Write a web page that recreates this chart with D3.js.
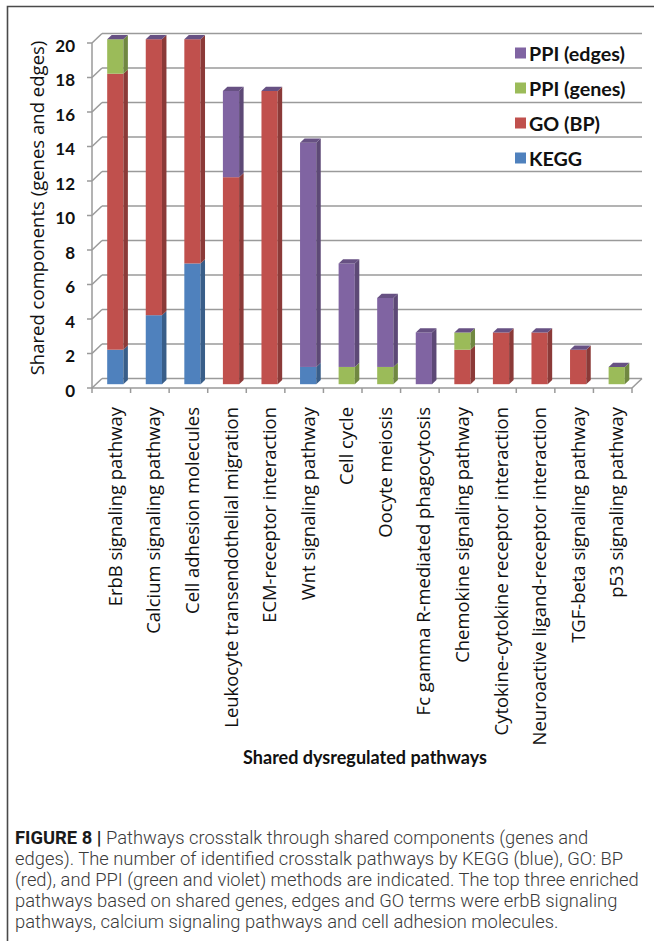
<!DOCTYPE html>
<html>
<head>
<meta charset="utf-8">
<script src="https://cdn.jsdelivr.net/npm/d3@7"></script>
<style>
  html, body { margin: 0; padding: 0; background: #fff; }
  svg { display: block; }
</style>
</head>
<body>
<svg id="chart" width="654" height="941"></svg>
<script>
// Pathway categories (x axis)
const categories = [
  "ErbB signaling pathway",
  "Calcium signaling pathway",
  "Cell adhesion molecules",
  "Leukocyte transendothelial migration",
  "ECM-receptor interaction",
  "Wnt signaling pathway",
  "Cell cycle",
  "Oocyte meiosis",
  "Fc gamma R-mediated  phagocytosis",
  "Chemokine signaling pathway",
  "Cytokine-cytokine receptor interaction",
  "Neuroactive ligand-receptor interaction",
  "TGF-beta signaling pathway",
  "p53 signaling pathway"
];

// Stacked series, bottom to top
const kegg     = [2, 4, 7, 0, 0, 1, 0, 0, 0, 0, 0, 0, 0, 0];
const goBP     = [16, 16, 13, 12, 17, 0, 0, 0, 0, 2, 3, 3, 2, 0];
const ppiGenes = [2, 0, 0, 0, 0, 0, 1, 1, 0, 1, 0, 0, 0, 1];
const ppiEdges = [0, 0, 0, 5, 0, 13, 6, 4, 3, 0, 0, 0, 0, 0];

const seriesNames = ["KEGG", "GO (BP)", "PPI (genes)", "PPI (edges)"];
const seriesColors = ["#4F81BD", "#C0504D", "#9BBB59", "#8064A2"];
const yTicks = [0, 2, 4, 6, 8, 10, 12, 14, 16, 18, 20];

const captionLines = [
  "Pathways crosstalk through shared components (genes and",
  "edges). The number of identified crosstalk pathways by KEGG (blue), GO: BP",
  "(red), and PPI (green and violet) methods are indicated. The top three enriched",
  "pathways based on shared genes, edges and GO terms were erbB signaling",
  "pathways, calcium signaling pathways and cell adhesion molecules."
];

const svg = d3.select("#chart");

// fit a text element's font size so that it spans a given length
function fitText(sel, target) {
  const node = sel.node();
  const fs = parseFloat(sel.attr("font-size"));
  const len = node.getComputedTextLength();
  if (len > 0) sel.attr("font-size", (fs * target / len).toFixed(2));
  return sel;
}

// outer frame
svg.append("path")
  .attr("d", "M7.5,941 V6.5 H654")
  .attr("fill", "none").attr("stroke", "#4a4a4a").attr("stroke-width", 1.6);

// --- 3D plot geometry ---
const x = d3.scaleBand().domain(categories).range([92, 632]);
const y = d3.scaleLinear().domain([0, 20]).range([388, 43]);
const DX = 10, DY = -9.5;          // depth offset of the back wall
const fF = 0.4, fB = 0.85;         // bar front/back depth fractions
const bw = x.bandwidth() * 0.42;

const gridColor = "#9a9a9a";
const grid = svg.append("g").attr("stroke", gridColor).attr("stroke-width", 1.5).attr("fill", "none");

// back wall gridlines and side wall diagonals
yTicks.forEach(v => {
  const yf = y(v);
  grid.append("line").attr("x1", 92 + DX).attr("x2", 632 + DX)
    .attr("y1", yf + DY).attr("y2", yf + DY);
  grid.append("line").attr("x1", 92).attr("y1", yf).attr("x2", 92 + DX).attr("y2", yf + DY);
});
// floor front edge and right diagonal
grid.append("line").attr("x1", 92).attr("x2", 632).attr("y1", y(0)).attr("y2", y(0));
grid.append("line").attr("x1", 632).attr("y1", y(0)).attr("x2", 632 + DX).attr("y2", y(0) + DY);
// front vertical axis
grid.append("line").attr("x1", 92).attr("x2", 92).attr("y1", y(0)).attr("y2", y(20));
// y ticks
yTicks.forEach(v => {
  grid.append("line").attr("x1", 87).attr("x2", 92).attr("y1", y(v)).attr("y2", y(v));
});
// x ticks at band boundaries
categories.concat([null]).forEach((c, i) => {
  const xx = 92 + i * x.bandwidth();
  grid.append("line").attr("x1", xx).attr("x2", xx).attr("y1", y(0)).attr("y2", y(0) + 5);
});

// --- stacked 3D bars ---
const table = categories.map((c, i) => ({
  cat: c, KEGG: kegg[i], "GO (BP)": goBP[i], "PPI (genes)": ppiGenes[i], "PPI (edges)": ppiEdges[i]
}));
const stacked = d3.stack().keys(seriesNames)(table);
const color = d3.scaleOrdinal().domain(seriesNames).range(seriesColors);

const bars = svg.append("g");
const sdx = (fB - fF) * DX, sdy = (fB - fF) * DY;

stacked.forEach(layer => {
  const col = d3.color(color(layer.key));
  layer.forEach((d, i) => {
    if (d[1] - d[0] <= 0) return;
    const cx = x(categories[i]) + x.bandwidth() / 2 + fF * DX;
    const xl = cx - bw / 2, xr = cx + bw / 2;
    const yt = y(d[1]) + fF * DY, yb = y(d[0]) + fF * DY;
    bars.append("rect").attr("x", xl).attr("y", yt).attr("width", bw).attr("height", yb - yt)
      .attr("fill", col.formatHex());
    bars.append("polygon")
      .attr("points", [[xr, yt], [xr + sdx, yt + sdy], [xr + sdx, yb + sdy], [xr, yb]].join(" "))
      .attr("fill", col.darker(0.9).formatHex());
  });
});

// top caps (zero-height top series face)
const topCol = d3.color(color("PPI (edges)")).darker(0.6).formatHex();
stacked[stacked.length - 1].forEach((d, i) => {
  const cx = x(categories[i]) + x.bandwidth() / 2 + fF * DX;
  const xl = cx - bw / 2, xr = cx + bw / 2;
  const yt = y(d[1]) + fF * DY;
  bars.append("polygon")
    .attr("points", [[xl, yt], [xl + sdx, yt + sdy], [xr + sdx, yt + sdy], [xr, yt]].join(" "))
    .attr("fill", topCol);
});

// --- axis labels ---
const labelFont = "Lato, 'Open Sans', sans-serif";
svg.append("g").selectAll("text").data(yTicks).join("text")
  .attr("x", 75).attr("y", v => y(v) + 2)
  .attr("text-anchor", "end").attr("dominant-baseline", "central")
  .attr("font-family", labelFont).attr("font-weight", "bold").attr("font-size", 17)
  .attr("fill", "#111").text(v => v);

const yTitle = svg.append("text")
  .attr("transform", "translate(36,208) rotate(-90)")
  .attr("text-anchor", "middle").attr("dominant-baseline", "central")
  .attr("font-family", "'Open Sans', sans-serif").attr("font-size", 16)
  .attr("fill", "#111").text("Shared components (genes and edges)");
fitText(yTitle, 335);

const xLabels = svg.append("g").selectAll("text").data(categories).join("text")
  .attr("transform", c => `translate(${x(c) + x.bandwidth() / 2 + 3},407) rotate(-90)`)
  .attr("text-anchor", "end").attr("dominant-baseline", "central")
  .attr("font-family", "'Open Sans', sans-serif").attr("font-size", 15)
  .attr("fill", "#111").text(c => c);
// size the category labels from the longest one
{
  const ref = xLabels.filter(c => c === "Leukocyte transendothelial migration");
  const len = ref.node().getComputedTextLength();
  xLabels.attr("font-size", (15 * 321 / len).toFixed(2));
}

const xTitle = svg.append("text")
  .attr("x", 365).attr("y", 757)
  .attr("text-anchor", "middle").attr("dominant-baseline", "central")
  .attr("font-family", labelFont).attr("font-weight", "bold").attr("font-size", 17)
  .attr("fill", "#111").text("Shared dysregulated pathways");
fitText(xTitle, 244);

// --- legend ---
const legendOrder = ["PPI (edges)", "PPI (genes)", "GO (BP)", "KEGG"];
const legend = svg.append("g");
legendOrder.forEach((k, i) => {
  const cy = 53 + i * 35;
  legend.append("rect").attr("x", 515).attr("y", cy - 5.5).attr("width", 11).attr("height", 11)
    .attr("fill", color(k));
  const t = legend.append("text").attr("x", 529).attr("y", cy)
    .attr("dominant-baseline", "central")
    .attr("font-family", labelFont).attr("font-weight", "bold").attr("font-size", 16)
    .attr("fill", "#111").text(k);
  if (k === "PPI (edges)") t.attr("data-ref", "1");
});
{
  const ref = legend.select("text[data-ref]");
  const len = ref.node().getComputedTextLength();
  legend.selectAll("text").attr("font-size", (16 * 96 / len).toFixed(2));
}

// --- caption ---
const capFont = "Roboto, 'Liberation Sans', Arial, sans-serif";
const cap = svg.append("g").attr("font-family", capFont).attr("font-size", 16).attr("fill", "#3a3a3a");
const capTexts = captionLines.map((line, i) => {
  const t = cap.append("text").attr("x", 15).attr("y", 844 + i * 21).attr("font-weight", 300);
  if (i === 0) {
    t.append("tspan").attr("font-weight", "bold").attr("fill", "#1a1a1a").text("FIGURE 8 | ");
  }
  t.append("tspan").text(line);
  return t;
});
{
  const len = capTexts[2].node().getComputedTextLength();
  cap.attr("font-size", (16 * 624 / len).toFixed(2));
}
</script>
</body>
</html>
